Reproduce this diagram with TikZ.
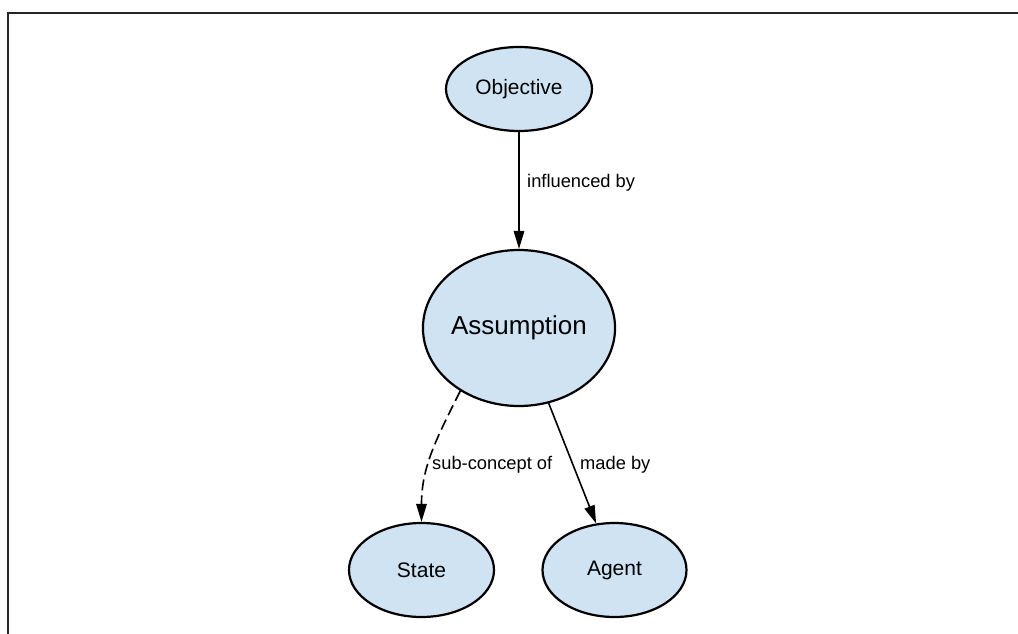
\documentclass[tikz,border=0pt]{standalone}
\usepackage{fontspec}
\setmainfont{Liberation Sans}
\usetikzlibrary{shapes.geometric,arrows.meta}
\definecolor{conceptfill}{RGB}{207,227,243}
\tikzset{
  concept/.style={ellipse, draw=black, line width=2.2pt, fill=conceptfill, inner sep=0pt},
  link/.style={line width=1.6pt, -{Triangle[length=18pt,width=10.5pt]}},
  lbl/.style={font=\fontsize{18.3}{20}\selectfont, inner sep=0pt, anchor=west},
}
\begin{document}
\begin{tikzpicture}[x=1pt,y=-1pt]
\useasboundingbox (0,0) rectangle (1018,634);
\draw[line width=1.8pt, draw=black!85] (8,634) -- (8,13) -- (1018,13);

\node[concept, minimum width=146pt, minimum height=84pt, font=\fontsize{20.9}{24}\selectfont] (obj) at (519,89) {Objective};
\node[concept, minimum width=192pt, minimum height=156pt, font=\fontsize{26}{30}\selectfont] (ass) at (519,328) {Assumption};
\node[concept, minimum width=145pt, minimum height=94pt, font=\fontsize{21}{24}\selectfont] (state) at (421.5,570) {State};
\node[concept, minimum width=144pt, minimum height=94pt, font=\fontsize{21}{24}\selectfont] (agent) at (614.5,570) {Agent};

\draw[link] (obj) -- (ass);
\draw[link, dash pattern=on 11pt off 5pt] (ass.227) .. controls +(-24,48) and +(0,-55) .. (state.north);
\draw[link] (ass) -- (agent);

\node[lbl] (l1) at (527,183) {influenced by};
\node[lbl] (l2) at (432,465) {sub-concept of};
\node[lbl] (l3) at (580,465) {made by};
\end{tikzpicture}
\end{document}
